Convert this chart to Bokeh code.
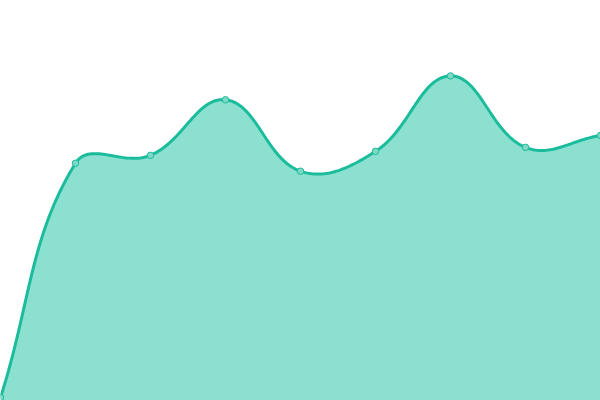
import numpy as np
from bokeh.plotting import figure
from bokeh.models import ColumnDataSource, Range1d
from bokeh.embed import file_html
from bokeh.resources import INLINE

# data
categories = [0, 1, 2, 3, 4, 5, 6, 7, 8]
values = [0, 59, 61, 75, 57, 62, 81, 63, 66]

LINE = "#1abc9c"
FILL = "#8be0cf"
POINT_FILL = "#7fd8c4"

# layout of the reference (pixel units per data unit), used only for spline shape
PX_X = 75.0
PX_Y = 3.97
TENSION = 0.4


def spline_path(xs, ys, n=40):
    """Chart.js-style cardinal spline rendered as sampled cubic beziers."""
    px = np.array(xs, float) * PX_X
    py = np.array(ys, float) * PX_Y
    m = len(px)
    c_prev = np.zeros((m, 2))
    c_next = np.zeros((m, 2))
    for i in range(m):
        p0 = np.array([px[max(i - 1, 0)], py[max(i - 1, 0)]])
        p1 = np.array([px[i], py[i]])
        p2 = np.array([px[min(i + 1, m - 1)], py[min(i + 1, m - 1)]])
        d01 = np.hypot(*(p1 - p0))
        d12 = np.hypot(*(p2 - p1))
        tot = d01 + d12
        s01 = d01 / tot if tot else 0
        s12 = d12 / tot if tot else 0
        c_prev[i] = p1 - TENSION * s01 * (p2 - p0)
        c_next[i] = p1 + TENSION * s12 * (p2 - p0)
    out_x, out_y = [], []
    t = np.linspace(0, 1, n)
    for i in range(m - 1):
        a = np.array([px[i], py[i]])
        b = c_next[i]
        c = c_prev[i + 1]
        d = np.array([px[i + 1], py[i + 1]])
        seg = (((1 - t) ** 3)[:, None] * a + (3 * (1 - t) ** 2 * t)[:, None] * b
               + (3 * (1 - t) * t ** 2)[:, None] * c + (t ** 3)[:, None] * d)
        if i > 0:
            seg = seg[1:]
        out_x.extend(seg[:, 0] / PX_X)
        out_y.extend(seg[:, 1] / PX_Y)
    return out_x, out_y


sx, sy = spline_path(categories, values)

W, H = 600, 400
p = figure(width=W, height=H, output_backend="svg", toolbar_location=None,
           min_border=0, min_border_left=0, min_border_right=0,
           min_border_top=0, min_border_bottom=0)
p.x_range = Range1d(0, 600 / PX_X)
p.y_range = Range1d((397 - 400) / PX_Y, 397 / PX_Y)
p.axis.visible = False
p.grid.visible = False
p.outline_line_color = None
p.background_fill_color = "white"
p.border_fill_color = "white"

curve = ColumnDataSource(dict(x=sx, y=sy, base=[-10] * len(sx)))
p.varea(x="x", y1="base", y2="y", source=curve, fill_color=FILL, fill_alpha=1)
p.line(x="x", y="y", source=curve, line_color=LINE, line_width=3)

pts = ColumnDataSource(dict(x=categories, y=values))
p.scatter(x="x", y="y", source=pts, size=6.5, fill_color=POINT_FILL,
          line_color=LINE, line_width=1)

open("out.html", "w").write(file_html(p, INLINE))
